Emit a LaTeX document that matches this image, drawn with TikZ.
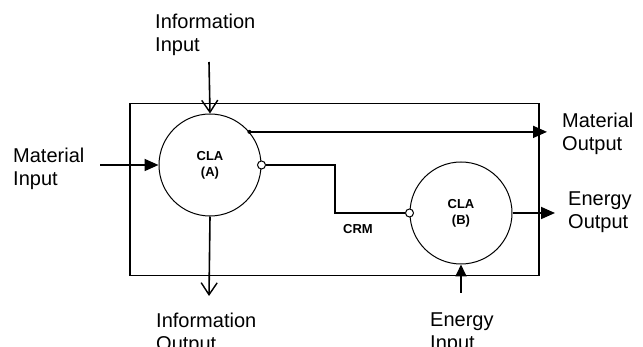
\documentclass[tikz,border=0pt]{standalone}
\usepackage{fontspec}
\setmainfont{Liberation Sans}
\usepackage{tikz}
\usetikzlibrary{arrows.meta}

\begin{document}
\begin{tikzpicture}[
  x=1pt, y=-1pt,
  sysbox/.style={draw, line width=1.2pt, minimum width=409pt, minimum height=172pt, inner sep=0pt},
  cla/.style={
    draw, circle, line width=1pt, minimum size=102pt, inner sep=0pt,
    align=center, font=\bfseries\fontsize{13}{16}\selectfont
  },
  port/.style={draw, circle, fill=white, line width=1pt, minimum size=8pt, inner sep=0pt},
  dot/.style={circle, fill, minimum size=4pt, inner sep=0pt},
  lbl/.style={anchor=north west, align=left, inner sep=0pt, font=\fontsize{20}{23}\selectfont},
  flow/.style={line width=1.8pt, -{Triangle[length=14pt, width=12pt]}},
  info/.style={line width=1.6pt, -{Straight Barb[length=12pt, width=16pt, line width=1.4pt]}}
]
  \useasboundingbox (0,0) rectangle (643,347);

  \node[sysbox] (sys) at (334.5,189.5) {};

  \node[cla] (claA) at (210,165) {CLA\\(A)};
  \node[cla] (claB) at (461,213) {CLA\\(B)};

  \node[lbl] (infoin)  at (155,14)  {Information\\Input};
  \node[lbl] (matin)   at (13,148)  {Material\\Input};
  \node[lbl] (matout)  at (562,113) {Material\\Output};
  \node[lbl] (enout)   at (568,192) {Energy\\Output};
  \node[lbl] (infoout) at (156,313) {Information\\Output};
  \node[lbl] (enin)    at (430,313) {Energy\\Input};
  \node[font=\bfseries\fontsize{13}{16}\selectfont] (crm) at (358,229) {CRM};

  \coordinate (iistart) at (209,62);
  \coordinate (ioend)   at (209,296);
  \coordinate (mistart) at (100,165);
  \coordinate (moend)   at (547,132);
  \coordinate (eoend)   at (555,213);
  \coordinate (eistart) at (461,293);
  \coordinate (crmbend) at (335,190);

  \draw[info] (iistart) -- (claA.north);
  \draw[info] (claA.south) -- (ioend);
  \draw[flow] (mistart) -- (claA.west);
  \draw[flow] (claA.40) -- (claA.40 -| moend);
  \draw[flow] (claB.east) -- (eoend);
  \draw[flow, -{Triangle[length=12pt, width=11pt]}] (eistart) -- (claB.south);

  \node[dot] (mdot) at (claA.40) {};
  \node[port] (pa) at (claA.east) {};
  \node[port] (pb) at (claB.west) {};
  \draw[line width=2pt] (pa.east) -- (pa.east -| crmbend) |- (pb.west);
\end{tikzpicture}
\end{document}
